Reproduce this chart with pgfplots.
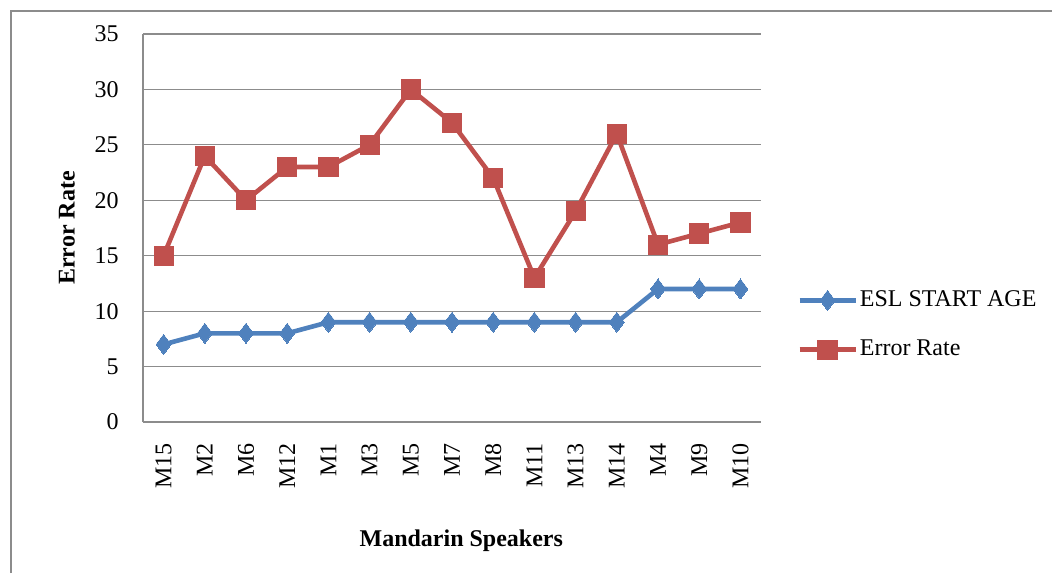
\documentclass[border=0pt]{standalone}
\usepackage{fontspec}
\setmainfont{Liberation Serif}
\usepackage{pgfplots}
\pgfplotsset{compat=1.18}
\definecolor{xlblue}{HTML}{4F81BD}
\definecolor{xlred}{HTML}{C0504D}
\definecolor{xlgrid}{HTML}{8C8C8C}
\begin{document}
\fontsize{12}{14}\selectfont
\begin{tikzpicture}
% 1 px of the reference = 0.5pt
\useasboundingbox (0,0) rectangle (526pt,286.5pt);
\draw[xlgrid, line width=0.8pt] (5.5pt,0) -- (5.5pt,281pt) -- (526pt,281pt);
\begin{axis}[
    at={(71.5pt,75.5pt)}, anchor=south west,
    scale only axis,
    width=309pt, height=194pt,
    xmin=-0.5, xmax=14.5,
    ymin=0, ymax=35,
    xtick=data,
    xticklabels={M15,M2,M6,M12,M1,M3,M5,M7,M8,M11,M13,M14,M4,M9,M10},
    x tick label style={rotate=90, anchor=east, xshift=-6.5pt},
    ytick={0,5,...,35},
    y tick label style={xshift=-8pt},
    /pgf/number format/assume math mode=true,
    major tick length=0pt,
    ymajorgrids,
    grid style={xlgrid, line width=0.6pt},
    axis x line*=bottom, axis y line*=left,
    axis line style={xlgrid, line width=0.6pt, -},
    xlabel={\textbf{Mandarin Speakers}},
    xlabel style={at={(axis description cs:0.515,-0.307)}, anchor=center},
    ylabel={\textbf{Error Rate}},
    ylabel style={at={(axis description cs:-0.123,0.5)}, anchor=center},
    legend style={at={(axis description cs:1.058,0.25)}, anchor=west,
        draw=none, fill=none, inner sep=0pt, row sep=13pt,
        nodes={inner sep=1pt}},
    legend cell align=left,
    legend image code/.code={
        \draw[mark repeat=2, mark phase=2, #1] plot coordinates {(0pt,0pt) (14pt,0pt) (28pt,0pt)};
    },
]
\addplot[color=xlblue, line width=2.3pt, mark=diamond*, mark size=5pt,
    mark options={solid, line width=0pt, fill=xlblue}] coordinates {
    (0,7) (1,8) (2,8) (3,8) (4,9) (5,9) (6,9) (7,9) (8,9) (9,9) (10,9) (11,9) (12,12) (13,12) (14,12)};
\addplot[color=xlred, line width=2.3pt, mark=square*, mark size=4.8pt,
    mark options={solid, line width=0pt, fill=xlred}] coordinates {
    (0,15) (1,24) (2,20) (3,23) (4,23) (5,25) (6,30) (7,27) (8,22) (9,13) (10,19) (11,26) (12,16) (13,17) (14,18)};
\legend{ESL START AGE, Error Rate}
\end{axis}
\end{tikzpicture}
\end{document}
